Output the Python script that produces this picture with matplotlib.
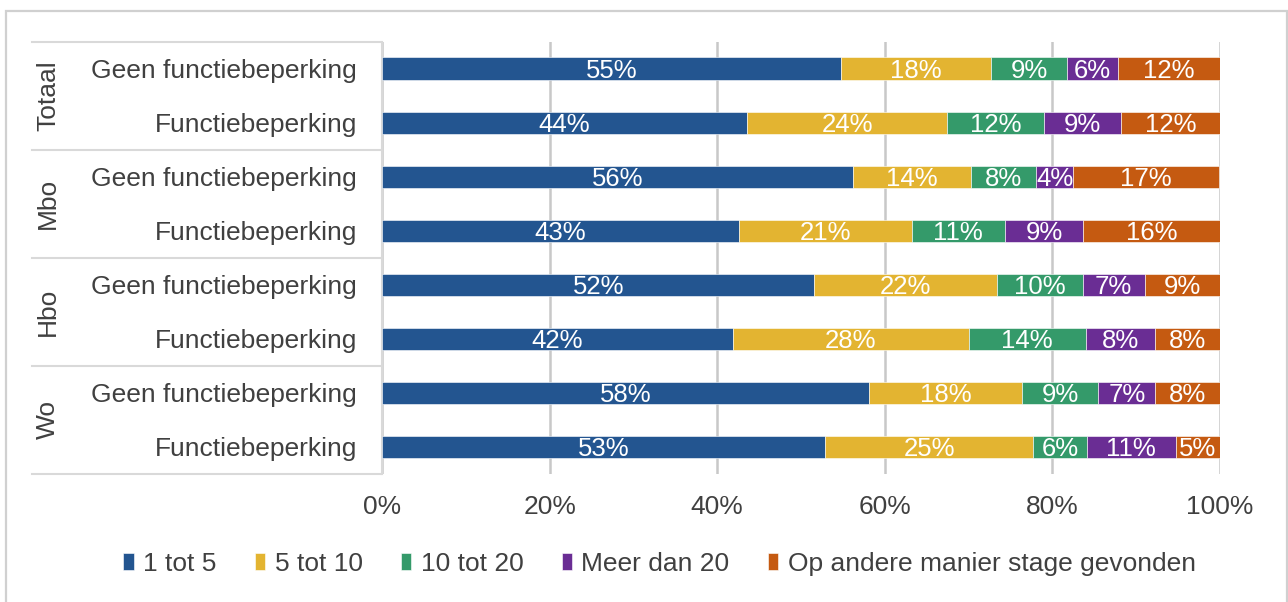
import matplotlib
matplotlib.use("Agg")
import matplotlib.pyplot as plt
import matplotlib.transforms as mtransforms
from matplotlib.patches import Rectangle
from matplotlib.lines import Line2D
import numpy as np

plt.rcParams['font.family'] = ['Liberation Sans', 'DejaVu Sans']

# data (top row first)
groups = ['Totaal', 'Mbo', 'Hbo', 'Wo']
rows = ['Geen functiebeperking', 'Functiebeperking'] * 4
series = ['1 tot 5', '5 tot 10', '10 tot 20', 'Meer dan 20',
          'Op andere manier stage gevonden']
een_tot_vijf = [54.8, 43.6, 56.2, 42.6, 51.6, 41.9, 58.1, 52.9]
vijf_tot_tien = [17.9, 23.8, 14.1, 20.6, 21.8, 28.1, 18.3, 24.8]
tien_tot_twintig = [9.0, 11.6, 7.8, 11.1, 10.2, 14.0, 9.05, 6.4]
meer_dan_twintig = [6.1, 9.2, 4.4, 9.4, 7.4, 8.25, 6.85, 10.6]
andere_manier = [12.2, 11.85, 17.4, 16.3, 9.1, 7.75, 7.7, 5.3]
colors = ['#235590', '#E3B431', '#349A6A', '#6A2D94', '#C55A11']

values = [een_tot_vijf, vijf_tot_tien, tien_tot_twintig,
          meer_dan_twintig, andere_manier]

W, H = 1288, 602
fig = plt.figure(figsize=(W / 100, H / 100), dpi=100)
ax = fig.add_axes([382 / W, 1 - 474 / H, (1220 - 382) / W, (474 - 41.5) / H])

txt = '#404040'
fs = 19
y = np.arange(len(rows))
left = np.zeros(len(rows))
for name, vals, c in zip(series, values, colors):
    vals = np.array(vals)
    ax.barh(y, vals, left=left, height=0.41, color=c, label=name,
            edgecolor='white', linewidth=0.4, zorder=3)
    for yi, l, v in zip(y, left, vals):
        ax.text(l + v / 2, yi, f'{round(v)}%', ha='center', va='center_baseline',
                color='white', fontsize=fs - 0.5, zorder=4)
    left += vals

ax.set_xlim(0, 100)
ax.set_ylim(len(rows) - 0.5, -0.5)
ax.set_xticks(np.arange(0, 101, 20))
ax.set_xticklabels([f'{t}%' for t in range(0, 101, 20)], fontsize=fs, color=txt)
ax.set_yticks(y)
ax.set_yticklabels(rows, fontsize=fs, color=txt)
ax.tick_params(axis='both', length=0)
ax.tick_params(axis='x', pad=15)
ax.tick_params(axis='y', pad=18)
ax.grid(axis='x', color='#c8c8c8', linewidth=1.8, zorder=0)
for s in ['top', 'right', 'bottom']:
    ax.spines[s].set_visible(False)
ax.spines['left'].set_color('#d9d9d9')
ax.spines['left'].set_linewidth(1.5)

# group labels and separators in the left margin
trans = mtransforms.blended_transform_factory(fig.transFigure, ax.transData)
for i, g in enumerate(groups):
    ax.text(48 / W, 2 * i + 0.5, g, rotation=90, ha='center', va='center',
            fontsize=fs, color=txt, transform=trans)
for b in np.arange(-0.5, len(rows), 2):
    ax.add_line(Line2D([32 / W, 381 / W], [b, b], transform=trans,
                       color='#d9d9d9', linewidth=1.5, clip_on=False))

ax.legend(loc='lower center', bbox_to_anchor=(0.512, 0), bbox_transform=fig.transFigure,
          ncol=5, frameon=False, fontsize=fs, handlelength=0.4, handleheight=0.6,
          handletextpad=0.35, columnspacing=1.45, labelcolor=txt,
          borderaxespad=0.6)

# outer chart border
fig.add_artist(Rectangle((6 / W, -0.05), 1280.5 / W, 1.05 - 11 / H,
                         transform=fig.transFigure, fill=False,
                         edgecolor='#d0d0d0', linewidth=1.6))

fig.savefig('out.png', dpi=100)
